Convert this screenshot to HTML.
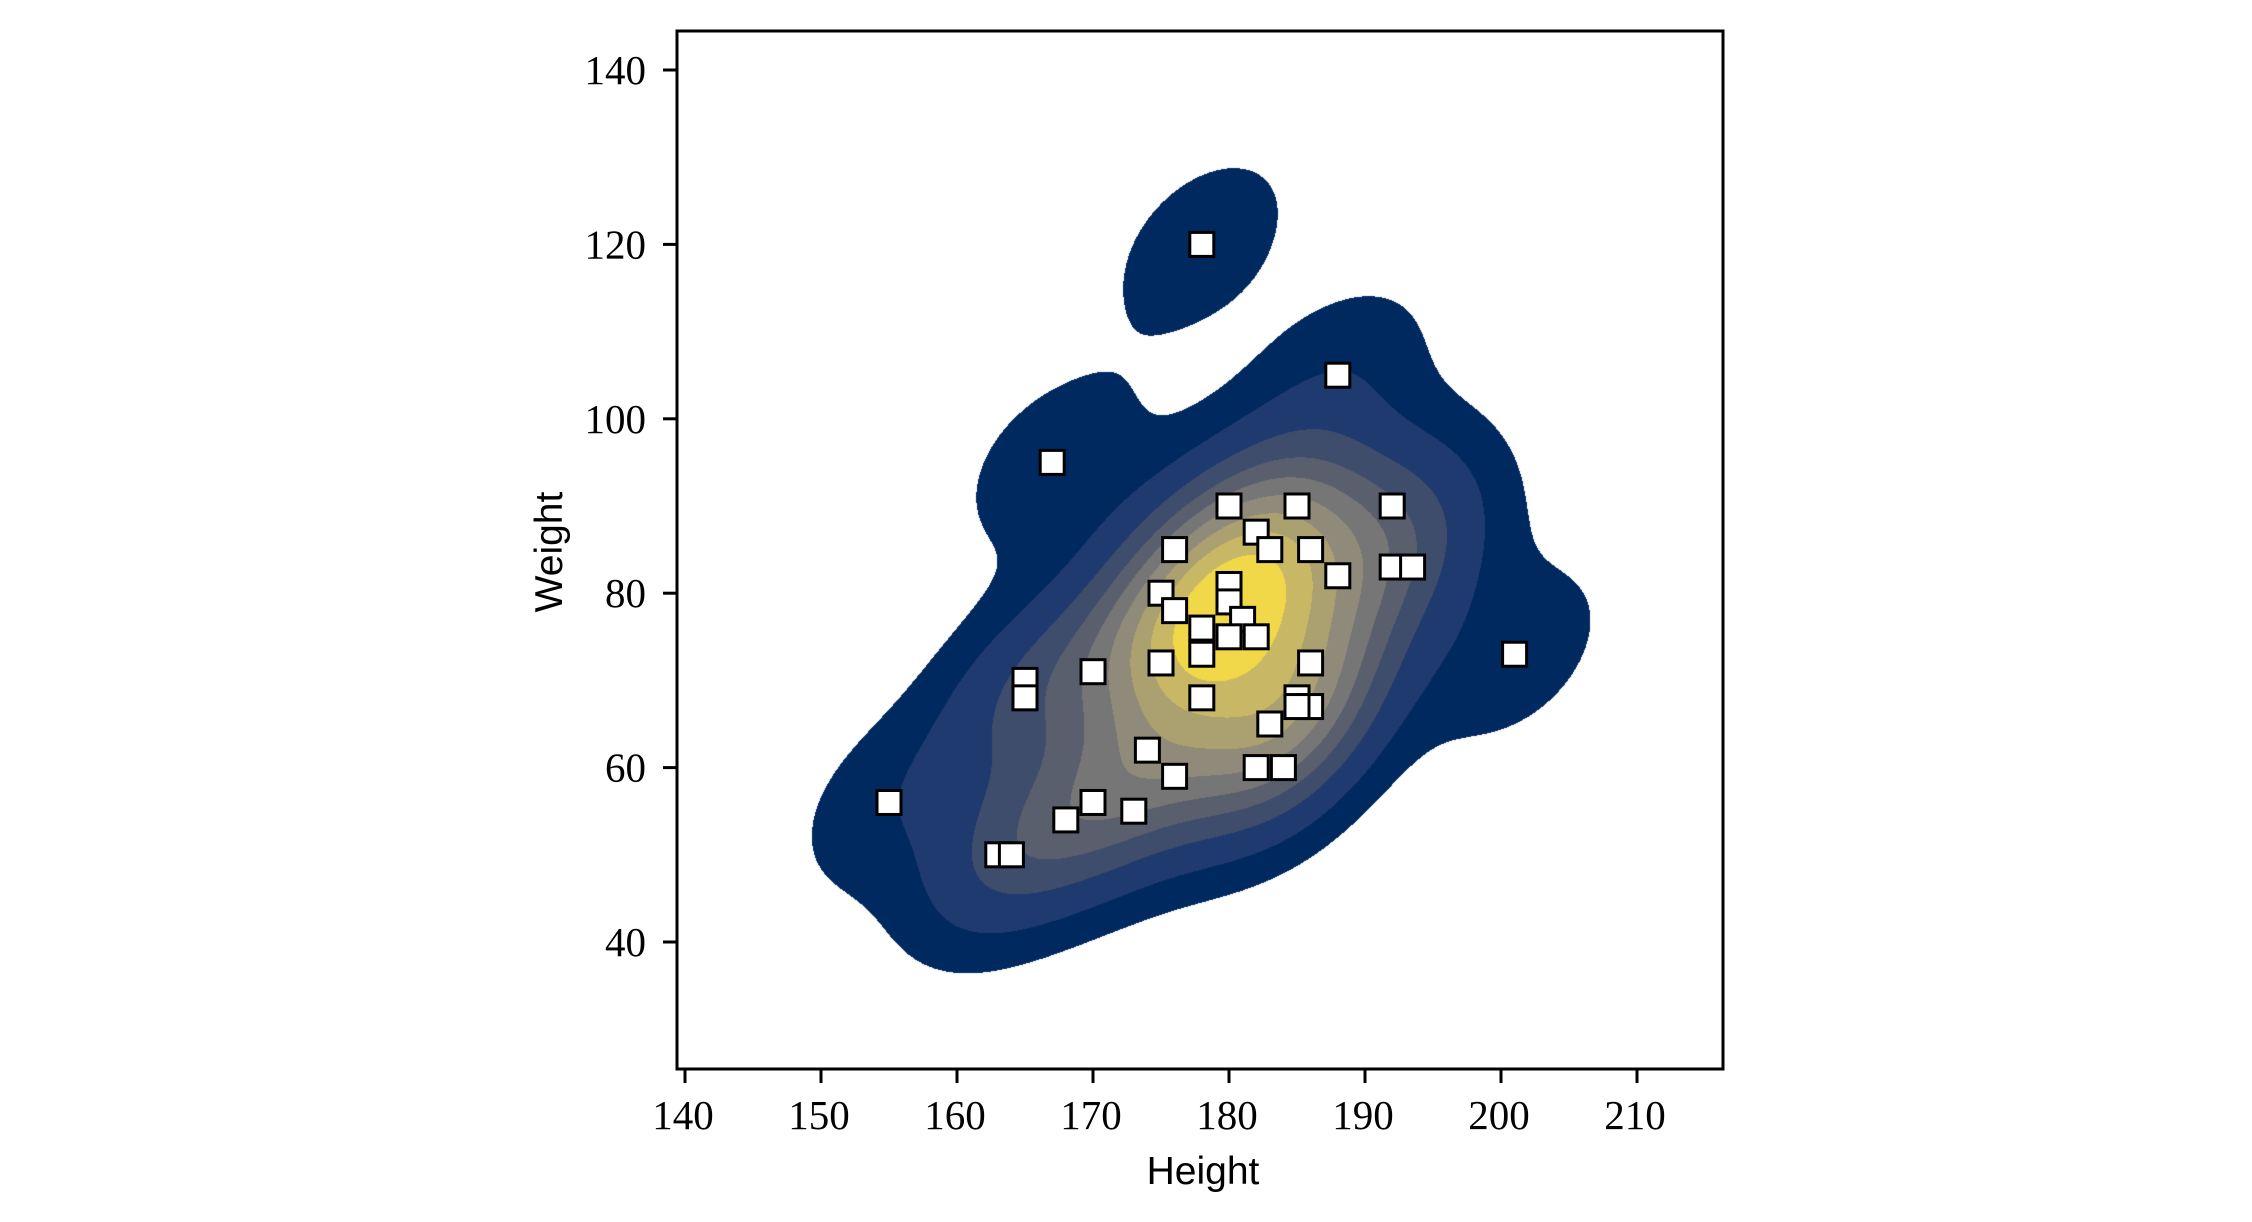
<!DOCTYPE html>
<html><head><meta charset="utf-8"><style>
html,body{margin:0;padding:0;background:#fff;}
#wrap{position:relative;width:2252px;height:1222px;overflow:hidden;}
canvas{position:absolute;left:0;top:0;}
svg{position:absolute;left:0;top:0;}
</style></head><body>
<div id="wrap">
<canvas id="kde" width="2252" height="1222"></canvas>
<svg id="svg" width="2252" height="1222" xmlns="http://www.w3.org/2000/svg"></svg>
</div>
<script>
const heights = [178,188,167,180,185,192,182,176,183,186,188,192,193.5,180,180,175,176,181,178,180,182,178,175,186,170,165,165,178,185,186,183,174,176,182,184,155,170,168,173,163,164,201,185];
const weights = [120,105,95,90,90,90,87,85,85,85,82,83,83,81,79,80,78,77,76,75,75,73,72,72,71,70,68,68,68,67,65,62,59,60,60,56,56,54,55,50,50,73,67];
const xTicks = [140,150,160,170,180,190,200,210];
const yTicks = [40,60,80,100,120,140];
const bandColors = ["#00295f","#1f3a6e","#3f4d6c","#5a5f6e","#767676","#8f8a7a","#aaa070","#c8b866","#f0d848"];

const AX_L=677, AX_R=1723, AX_T=31, AX_B=1069;
function xs(v){return 685+(v-140)*13.6;}
function ys(v){return 942-(v-40)*8.72;}
function xinv(p){return 140+(p-685)/13.6;}
function yinv(p){return 40-(p-942)/8.72;}

(function(){
  const n=heights.length;
  let mx=0,my=0;for(let i=0;i<n;i++){mx+=heights[i];my+=weights[i];}mx/=n;my/=n;
  let sxx=0,syy=0,sxy=0;
  for(let i=0;i<n;i++){const dx=heights[i]-mx,dy=weights[i]-my;sxx+=dx*dx;syy+=dy*dy;sxy+=dx*dy;}
  sxx/=(n-1);syy/=(n-1);sxy/=(n-1);
  const f2=Math.pow(n,-1/3);
  const a=sxx*f2,b=sxy*f2,d=syy*f2;
  const det=a*d-b*b;
  const ia=d/det,ib=-b/det,id=a/det;
  const W=AX_R-AX_L, H=AX_B-AX_T;
  const dens=new Float64Array(W*H);
  for(let py=0;py<H;py++){
    const yv=yinv(AX_T+py+0.5);
    for(let px=0;px<W;px++){
      const xv=xinv(AX_L+px+0.5);
      let s=0;
      for(let i=0;i<n;i++){
        const dx=xv-heights[i],dy=yv-weights[i];
        s+=Math.exp(-0.5*(ia*dx*dx+2*ib*dx*dy+id*dy*dy));
      }
      dens[py*W+px]=s;
    }
  }
  const sorted=Float64Array.from(dens).sort().reverse();
  let total=0;for(let i=0;i<sorted.length;i++)total+=sorted[i];
  const cum=new Float64Array(sorted.length);let c=0;
  for(let i=0;i<sorted.length;i++){c+=sorted[i];cum[i]=c/total;}
  const levels=[];
  for(let k=0;k<10;k++){
    const q=0.05+k*(0.95/9);
    const target=1-q;
    let lo=0,hi=cum.length;
    while(lo<hi){const m=(lo+hi)>>1;if(cum[m]<target)lo=m+1;else hi=m;}
    levels.push(sorted[Math.min(lo,sorted.length-1)]);
  }
  levels.sort((p,q)=>p-q);
  const rgb=bandColors.map(h=>[parseInt(h.slice(1,3),16),parseInt(h.slice(3,5),16),parseInt(h.slice(5,7),16)]);
  const ctx=document.getElementById('kde').getContext('2d');
  const img=ctx.createImageData(W,H);
  for(let i=0;i<W*H;i++){
    const v=dens[i];
    let band=-1;
    if(v>=levels[0]){band=0;for(let k=1;k<9;k++){if(v>=levels[k])band=k;}}
    const o=i*4;
    if(band<0){img.data[o]=255;img.data[o+1]=255;img.data[o+2]=255;img.data[o+3]=0;}
    else{const col=rgb[band];img.data[o]=col[0];img.data[o+1]=col[1];img.data[o+2]=col[2];img.data[o+3]=255;}
  }
  ctx.putImageData(img,AX_L,AX_T);
})();

const NS="http://www.w3.org/2000/svg";
const svg=document.getElementById('svg');
function mk(tag,attrs,parent){const e=document.createElementNS(NS,tag);for(const k in attrs)e.setAttribute(k,attrs[k]);(parent||svg).appendChild(e);return e;}

const gm=mk('g',{});


for(let i=0;i<heights.length;i++){
  const s=24;
  const r=mk('rect',{x:xs(heights[i])-s/2,y:ys(weights[i])-s/2,width:s,height:s,fill:'#fff',stroke:'#000','stroke-width':3},gm);
  
  
}

const fr=mk('rect',{x:AX_L,y:AX_T,width:AX_R-AX_L,height:AX_B-AX_T,fill:'none',stroke:'#000','stroke-width':3});



for(const t of xTicks){
  const x=xs(t);
  const l=mk('line',{x1:x,y1:AX_B,x2:x,y2:AX_B+14,stroke:'#000','stroke-width':3});
  
  
  const tx=mk('text',{x:x-2,y:1129,'text-anchor':'middle','font-family':'Liberation Serif, serif','font-size':41,fill:'#000'});
  tx.textContent=t;
  
  
}
for(const t of yTicks){
  const y=ys(t);
  const l=mk('line',{x1:AX_L-14,y1:y,x2:AX_L,y2:y,stroke:'#000','stroke-width':3});
  
  
  const tx=mk('text',{x:646,y:y+14,'text-anchor':'end','font-family':'Liberation Serif, serif','font-size':41,fill:'#000'});
  tx.textContent=t;
  
  
}
const xl=mk('text',{x:1203,y:1184,'text-anchor':'middle','font-family':'Liberation Sans, sans-serif','font-size':39,fill:'#000'});
xl.textContent='Height';


const yl=mk('text',{x:0,y:0,'text-anchor':'middle','font-family':'Liberation Sans, sans-serif','font-size':39,fill:'#000',transform:'translate(562,552) rotate(-90)'});
yl.textContent='Weight';


</script>
</body></html>
